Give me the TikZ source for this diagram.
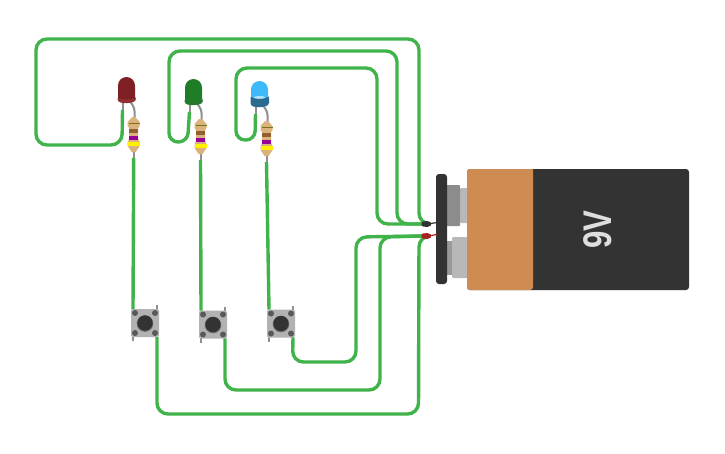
\documentclass[tikz,border=0pt]{standalone}
\usepackage{fontspec}
\setmainfont{Liberation Sans}
\definecolor{wire}{HTML}{40B34A}
\definecolor{dark}{HTML}{333333}
\definecolor{orangebody}{HTML}{CE8B52}
\definecolor{leg}{HTML}{8F8F8F}
\definecolor{tan}{HTML}{D9B27C}
\definecolor{redbody}{HTML}{7E1F23}
\definecolor{redflange}{HTML}{8E3034}
\definecolor{greenbody}{HTML}{1F7D28}
\definecolor{greenflange}{HTML}{25782D}
\definecolor{bluebody}{HTML}{3DB8F8}
\definecolor{blueflange}{HTML}{2A6A8E}
\definecolor{redtip}{HTML}{A82020}
\tikzset{
  wirepath/.style={draw=wire,line width=3.4pt,rounded corners=11pt},
  wirestraight/.style={draw=wire,line width=3.4pt},
  legline/.style={draw=leg,line width=2pt},
  btnleg/.style={draw=leg,line width=1.7pt},
}
% LED: #1 name, #2 x centre, #3 y top, #4 body, #5 flange, #6 flange top
\newcommand{\ledpart}[6]{%
  \begin{scope}[shift={(#2,#3)}]
    \draw[legline] (-4,24) -- (-4,33);
    \draw[legline,rounded corners=3pt] (4,25) -- (8,31) -- (8,42);
    \fill[#5,rounded corners=3pt] (-9,#6) -- (9.5,#6) -- (9.5,24.5) -- (0,26.5) -- (-9,25) -- cycle;
    \fill[#4] (-8.5,#6+2) -- (-8.5,8.5) arc (180:360:8.5) -- (8.5,#6+2) .. controls (3,#6+4) and (-3,#6+4) .. (-8.5,#6+2) -- cycle;
    \coordinate (#1k) at (-4,33);
  \end{scope}}
% resistor: #1 name, #2 x centre, #3 y top
\newcommand{\respart}[3]{%
  \begin{scope}[shift={(#2,#3)}]
    \draw[legline] (0,30) -- (0,42);
    \fill[tan] (-1.5,0) -- (1.5,0) -- (6,5) -- (6,9) -- (4.5,11) -- (4.5,22) -- (6,25) -- (6,29) -- (2,35) -- (-2,35) -- (-6,29) -- (-6,25) -- (-4.5,22) -- (-4.5,11) -- (-6,9) -- (-6,5) -- cycle;
    \fill[olive!80!black] (-5,5.5) rectangle (6,6.5);
    \fill[brown!75!black] (-4.5,12) rectangle (4.5,15.5);
    \fill[violet!50!magenta!80!black] (-4.5,19) rectangle (4.5,22.5);
    \fill[yellow] (-6,25) rectangle (6,29);
    \coordinate (#1b) at (0,41);
  \end{scope}}
% button: #1 name, #2 x centre, #3 y centre
\newcommand{\btnpart}[3]{%
  \begin{scope}[shift={(#2,#3)}]
    \draw[btnleg] (-12,-14) -- (-12,18);
    \draw[btnleg] (12,-18) -- (12,14);
    \fill[black!30,rounded corners=1.5pt] (-14,-14) rectangle (14,14);
    \foreach \dx/\dy in {-10/-10,10/-10,-10/10,10/10}{\fill[black!65] (\dx,\dy) circle (3);}
    \fill[black!55] (0,0.6) circle (8.3);
    \fill[dark] (0,0) circle (7.7);
    \coordinate (#1t) at (-12,-14);
    \coordinate (#1b) at (12,14);
  \end{scope}}
\begin{document}
\begin{tikzpicture}[x=1pt,y=-1pt]
\useasboundingbox (0,0) rectangle (725,453);
\fill[white] (0,0) rectangle (725,453);
% battery
\fill[black!28,rounded corners=1pt] (460,188) rectangle (468,223);
\fill[black!45,rounded corners=1pt] (446,185) rectangle (460,226);
\fill[black!40] (446,241) rectangle (453,275);
\fill[black!28,rounded corners=1pt] (452,237) rectangle (468,278);
\fill[dark,rounded corners=3pt] (436,174) rectangle (447,284);
\fill[dark,rounded corners=3pt] (467,169) rectangle (689,290);
\fill[orangebody,rounded corners=3pt] (533,169) -- (467,169) -- (467,290) -- (533,290) [sharp corners] -- cycle;
\node[text=black!13,rotate=90,inner sep=0pt,font=\fontsize{40}{40}\selectfont\bfseries,xscale=0.78] (vlabel) at (598,229.5) {9V};
% terminals
\coordinate (blackend) at (423,224);
\coordinate (redend) at (423,236);
% components
\ledpart{ledA}{126.5}{77}{redbody}{redflange}{19}
\ledpart{ledB}{193.5}{79}{greenbody}{greenflange}{19}
\ledpart{ledC}{259.5}{81}{bluebody}{blueflange}{14}
\fill[white,opacity=.6] (259.5,97.5) ellipse (6 and 1.4);
\respart{resA}{133.7}{117}
\respart{resB}{200.5}{119}
\respart{resC}{266.5}{121}
\btnpart{btnA}{145}{323}
\btnpart{btnB}{213}{324.5}
\btnpart{btnC}{281}{323.5}
% wires
\draw[wirepath] (blackend) -- (419,224) -- (419,39) -- (36,39) -- (36,145) -- (122,145) -- (ledAk);
\draw[wirepath] (blackend) -- (397,224) -- (397,51) -- (169,51) [rounded corners=9pt] -- (169,142) -- (187.5,142) -- (ledBk);
\draw[wirepath] (blackend) -- (377,224) -- (377,68) -- (236,68) [rounded corners=9pt] -- (236,140) -- (255,140) -- (ledCk);
\draw[wirepath] (redend) -- (356,237) -- (356,362) -- (292.5,362) -- (btnCb);
\draw[wirepath] (redend) -- (380,237) -- (380,390) -- (225,390) -- (btnBb);
\draw[wirepath] (redend) -- (419,236) -- (418.5,414) -- (157,414) -- (btnAb);
\draw[wirestraight] (resAb) -- (btnAt);
\draw[wirestraight] (resBb) -- (btnBt);
\draw[wirestraight] (resCb) -- (btnCt);
% connector tips
\draw[dark,line width=1.2pt] (428,224) -- (437,222.5);
\draw[redtip,line width=1.2pt] (428,236) -- (437,234.5);
\fill[dark,rounded corners=1.5pt] (421.5,221.5) -- (429,221) -- (432,224) -- (429,227) -- (421.5,226.5) -- cycle;
\fill[redtip,rounded corners=1.5pt] (421.5,233.5) -- (429,233) -- (432,236) -- (429,239) -- (421.5,238.5) -- cycle;
\end{tikzpicture}
\end{document}
